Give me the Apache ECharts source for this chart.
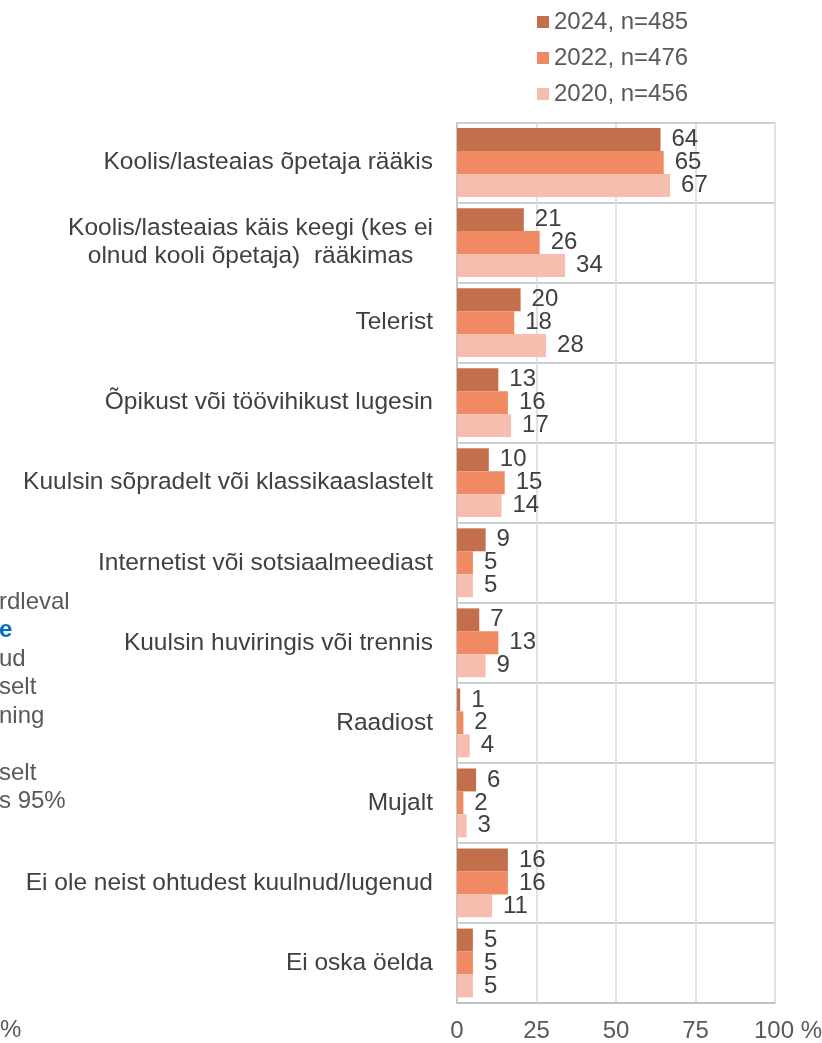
<!DOCTYPE html>
<html>
<head>
<meta charset="utf-8">
<script src="https://cdn.jsdelivr.net/npm/echarts@6/dist/echarts.min.js"></script>
<style>
  html, body { margin: 0; padding: 0; background: #fff; }
  #chart { width: 822px; height: 1043px; }
</style>
</head>
<body>
<div id="chart"></div>
<script>
// kategooriad ülevalt alla
const categories = [
  "Koolis/lasteaias õpetaja rääkis",
  "Koolis/lasteaias käis keegi (kes ei\nolnud kooli õpetaja)  rääkimas",
  "Telerist",
  "Õpikust või töövihikust lugesin",
  "Kuulsin sõpradelt või klassikaaslastelt",
  "Internetist või sotsiaalmeediast",
  "Kuulsin huviringis või trennis",
  "Raadiost",
  "Mujalt",
  "Ei ole neist ohtudest kuulnud/lugenud",
  "Ei oska öelda"
];
const seriesNames = ["2024, n=485", "2022, n=476", "2020, n=456"];
const values2024 = [64, 21, 20, 13, 10, 9, 7, 1, 6, 16, 5];
const values2022 = [65, 26, 18, 16, 15, 5, 13, 2, 2, 16, 5];
const values2020 = [67, 34, 28, 17, 14, 5, 9, 4, 3, 11, 5];
const xTicks = [0, 25, 50, 75, 100];
// vasakult ära lõigatud tekstijupid
const sideText = ["rdleval", "e", "ud", "selt", "ning", "", "selt", "s 95%"];

const colors = ["#C46F4C", "#EF8A62", "#F5BEAE"];
const font = "Liberation Sans, Arial, sans-serif";
const fs = 24;

let chart = echarts.init(document.getElementById("chart"));

function barSeries(name, data, color) {
  return {
    name: name,
    type: "bar",
    data: data,
    barGap: "0%",
    barCategoryGap: "14%",
    itemStyle: { color: color },
    label: {
      show: true,
      position: "right",
      distance: 11,
      color: "#404040",
      fontSize: fs,
      fontFamily: font
    }
  };
}

let sideGraphics = sideText.map((t, i) => ({
  type: "text",
  left: -1,
  top: 590 + i * 28.5,
  style: {
    text: t,
    fontSize: fs,
    fontFamily: font,
    fontWeight: i === 1 ? "bold" : "normal",
    fill: i === 1 ? "#0070C0" : "#595959"
  }
}));
sideGraphics.push({
  type: "text",
  left: 0,
  top: 1018,
  style: { text: "%", fontSize: fs, fontFamily: font, fill: "#595959" }
});

let option = {
  animation: false,
  textStyle: { fontFamily: font },
  legend: {
    orient: "vertical",
    left: 532,
    top: 5,
    itemWidth: 12,
    itemHeight: 12,
    itemGap: 12,
    icon: "rect",
    data: seriesNames,
    textStyle: { fontSize: fs, color: "#595959", fontFamily: font }
  },
  grid: {
    left: 457, right: 47, top: 122.5, bottom: 40,
    containLabel: false,
    outerBoundsMode: "none"
  },
  xAxis: {
    type: "value",
    min: xTicks[0],
    max: xTicks[xTicks.length - 1],
    interval: 25,
    axisLine: { show: true, lineStyle: { color: "#BFBFBF", width: 1.5 } },
    axisTick: { show: false },
    splitLine: { show: true, lineStyle: { color: "#D9D9D9", width: 1.5 } },
    axisLabel: {
      margin: 16,
      fontSize: fs,
      color: "#595959",
      fontFamily: font,
      hideOverlap: false,
      // "100" jääb joone kohale keskele, "%" läheb paremale
      formatter: v => (v === 100 ? "{pad|}" + v + " %" : String(v)),
      rich: { pad: { width: 26 } }
    }
  },
  yAxis: {
    type: "category",
    inverse: true,
    data: categories,
    axisLine: { show: true, lineStyle: { color: "#BFBFBF", width: 1.5 } },
    axisTick: { show: false },
    splitLine: { show: true, lineStyle: { color: "#BFBFBF", width: 1.5 } },
    axisLabel: {
      margin: 24,
      fontSize: fs,
      color: "#404040",
      fontFamily: font,
      lineHeight: 28,
      formatter: v => "{c|" + v + "}",
      rich: {
        c: { align: "center", fontSize: 24.5, color: "#404040", fontFamily: font, lineHeight: 28 }
      }
    }
  },
  series: [
    barSeries(seriesNames[0], values2024, colors[0]),
    barSeries(seriesNames[1], values2022, colors[1]),
    barSeries(seriesNames[2], values2020, colors[2])
  ],
  graphic: sideGraphics
};

chart.setOption(option);
window.addEventListener("resize", function () {
  chart.resize();
});
</script>
</body>
</html>
